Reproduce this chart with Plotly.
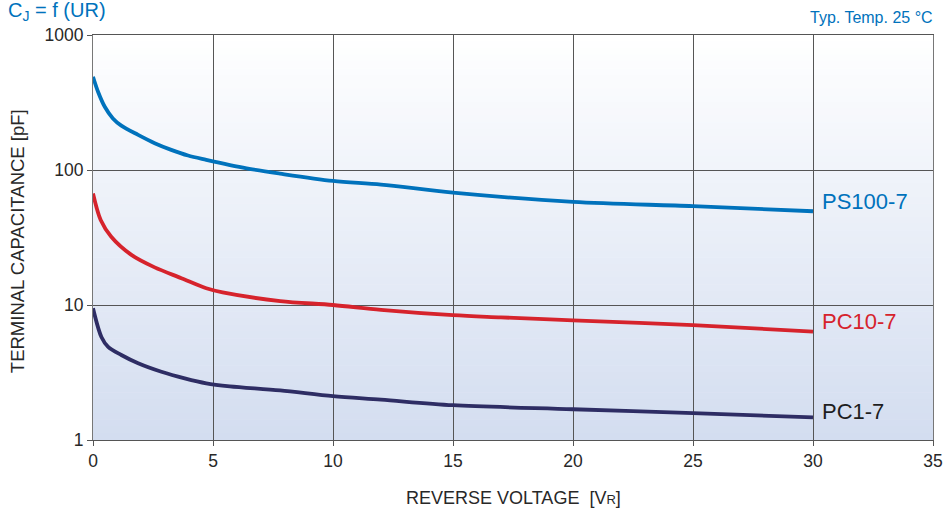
import math
import plotly.graph_objects as go

# ---- data ----
volt_ps100 = [0, 0.21, 0.49, 0.83, 1.18, 1.88, 2.57, 3.26, 3.96, 4.72, 6.4, 7.8, 10, 12, 15, 20, 25, 30]
cap_ps100 = [491, 380, 294, 241, 213, 182, 158, 141, 128, 119, 103, 94, 83, 78, 68, 58, 54, 49.5]

volt_pc10 = [0, 0.32, 0.76, 1.6, 2.57, 3.68, 4.72, 5.4, 7.8, 10, 12, 15, 17, 20, 25, 30]
cap_pc10 = [67, 42.6, 32, 23.5, 19, 15.8, 13.3, 12.4, 10.7, 10.0, 9.2, 8.4, 8.1, 7.7, 7.1, 6.35]

volt_pc1 = [0, 0.35, 0.63, 1.18, 1.88, 2.85, 3.82, 4.72, 5.7, 7.8, 10, 12, 15, 20, 25, 30]
cap_pc1 = [9.45, 5.8, 4.9, 4.26, 3.7, 3.2, 2.86, 2.63, 2.5, 2.33, 2.11, 1.99, 1.81, 1.69, 1.58, 1.47]

series_names = ["PS100-7", "PC10-7", "PC1-7"]
label_y = [58.5, 7.5, 1.64]
x_ticks = [0, 5, 10, 15, 20, 25, 30, 35]
y_ticks = [1, 10, 100, 1000]
y_ticktext = ["1", "10", "100", "1000"]

colors = ["rgb(0,114,188)", "rgb(214,35,44)", "rgb(46,45,100)"]
label_colors = ["rgb(0,114,188)", "rgb(214,35,44)", "rgb(30,30,30)"]
FONT = "Arial, Liberation Sans, sans-serif"
TXT = "rgb(40,40,40)"

fig = go.Figure()
for xs, ys, c, n in zip([volt_ps100, volt_pc10, volt_pc1],
                        [cap_ps100, cap_pc10, cap_pc1], colors, series_names):
    fig.add_trace(go.Scatter(x=xs, y=ys, mode="lines", name=n,
                             line=dict(color=c, width=3.8, shape="spline", smoothing=0.9),
                             showlegend=False, hoverinfo="skip"))

# gradient background (white -> light blue)
N = 60
top = (255, 255, 255)
bot = (211, 221, 240)
for i in range(N):
    t = (i + 0.5) / N
    r = round(top[0] + (bot[0] - top[0]) * t)
    g = round(top[1] + (bot[1] - top[1]) * t)
    b = round(top[2] + (bot[2] - top[2]) * t)
    fig.add_shape(type="rect", xref="x domain", yref="y domain",
                  x0=0, x1=1, y0=1 - (i + 1) / N, y1=1 - i / N + 0.001,
                  fillcolor=f"rgb({r},{g},{b})", line=dict(width=0), layer="below")

for n, yv, c in zip(series_names, label_y, label_colors):
    fig.add_annotation(x=30.3, y=math.log10(yv), yref="y", xref="x", text=n, showarrow=False,
                       xanchor="left", yanchor="middle",
                       font=dict(family=FONT, size=22, color=c))

fig.add_annotation(xref="paper", yref="paper", x=-0.103, y=1.059, xanchor="left", yanchor="middle",
                   text="C<sub>J</sub> = f (UR)", showarrow=False,
                   font=dict(family=FONT, size=20, color="rgb(0,114,188)"))
fig.add_annotation(xref="paper", yref="paper", x=1.002, y=1.042, xanchor="right", yanchor="middle",
                   text="Typ. Temp. 25 °C", showarrow=False,
                   font=dict(family=FONT, size=16, color="rgb(0,114,188)"))
fig.add_annotation(xref="paper", yref="paper", x=-0.0905, y=0.491, xanchor="center", yanchor="middle",
                   text="TERMINAL CAPACITANCE [pF]", textangle=-90, showarrow=False,
                   font=dict(family=FONT, size=18.5, color=TXT))
fig.add_annotation(xref="paper", yref="paper", x=0.5, y=-0.143, xanchor="center", yanchor="middle",
                   text="REVERSE VOLTAGE &nbsp;[V<span style='font-size:13px'>R</span>]",
                   showarrow=False, font=dict(family=FONT, size=18, color=TXT))

fig.update_layout(
    width=943, height=513,
    margin=dict(l=93, r=10, t=35, b=73, autoexpand=False),
    paper_bgcolor="white", plot_bgcolor="rgba(0,0,0,0)",
    font=dict(family=FONT, color=TXT),
    xaxis=dict(range=[0, 35], tickvals=x_ticks, ticks="outside", ticklen=5, tickcolor="#555",
               showgrid=True, gridcolor="#555", gridwidth=1, zeroline=False, automargin=False,
               showline=True, linecolor="#555", linewidth=1, mirror=True,
               ticklabeloverflow="allow",
               tickfont=dict(size=17.5, family=FONT, color=TXT)),
    yaxis=dict(type="log", range=[0, 3], tickvals=y_ticks, ticktext=y_ticktext,
               ticks="outside", ticklen=5, tickcolor="#555", automargin=False,
               showgrid=True, gridcolor="#555", gridwidth=1, zeroline=False,
               showline=True, linecolor="#777", linewidth=1, mirror=True,
               tickfont=dict(size=17.5, family=FONT, color=TXT)),
)

fig.write_html(
    "out.html",
    config={"displayModeBar": False},
    post_script="document.body.style.margin='0';document.documentElement.style.overflow='hidden';",
)
